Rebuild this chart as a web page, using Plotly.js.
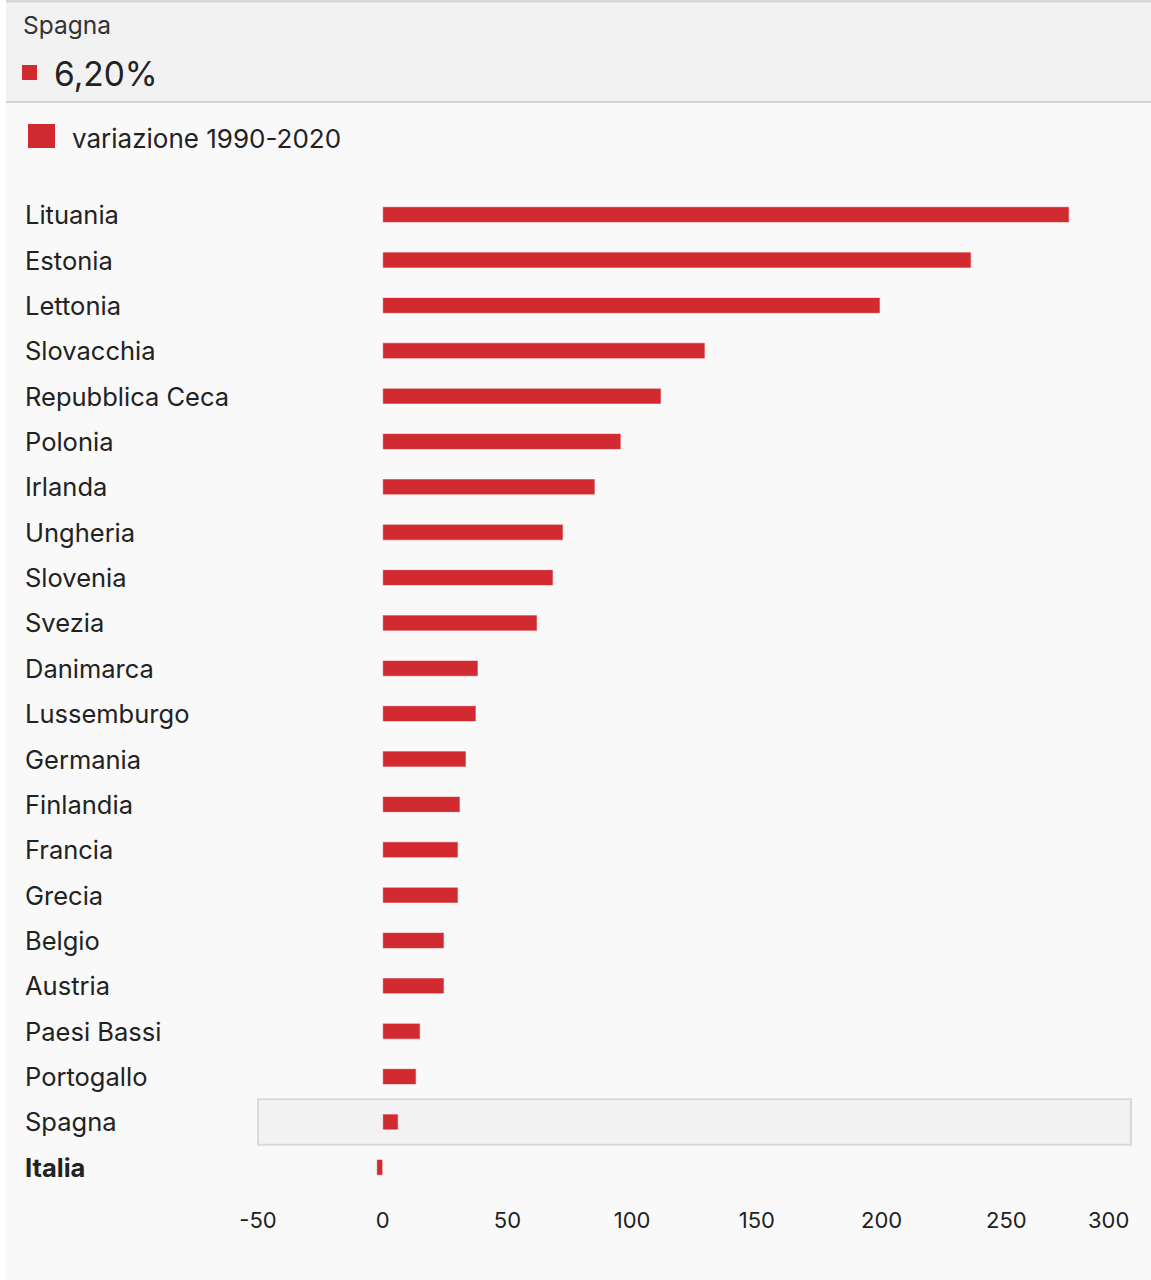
<!DOCTYPE html>
<html>
<head>
<meta charset="utf-8">
<script src="https://cdn.plot.ly/plotly-3.0.1.min.js"></script>
<style>
  html, body { margin: 0; padding: 0; background: #ffffff; }
  #chart { position: absolute; left: 6px; top: 0; width: 1145px; height: 1280px; }
</style>
</head>
<body>
<div id="chart"></div>
<script>
// variazione 1990-2020 (%)
const paesi = ['Lituania', 'Estonia', 'Lettonia', 'Slovacchia', 'Repubblica Ceca', 'Polonia',
    'Irlanda', 'Ungheria', 'Slovenia', 'Svezia', 'Danimarca', 'Lussemburgo', 'Germania',
    'Finlandia', 'Francia', 'Grecia', 'Belgio', 'Austria', 'Paesi Bassi', 'Portogallo',
    'Spagna', 'Italia'];
const variazione = [275.2, 235.9, 199.4, 129.2, 111.6, 95.5, 85.1, 72.3, 68.3, 61.9, 38.2,
    37.4, 33.4, 31.0, 30.2, 30.2, 24.6, 24.6, 15.0, 13.4, 6.2, -2.4];
const tickValori = [-50, 0, 50, 100, 150, 200, 250, 300];
const tickTesti = ['-50', '0', '50', '100', '150', '200', '250', '300'];
const serieNome = 'variazione 1990-2020';
const evidenziato = 'Spagna';
const paeseBold = 'Italia';

const rosso = '#d12a31';
const fontFam = 'Inter, "Liberation Sans", sans-serif';

// plot area in page pixels (div starts at x=6)
const divLeft = 6, plotL = 258, plotR = 1131, plotT = 192, plotB = 1190;
const pw = plotR - plotL, ph = plotB - plotT;
const px = x => (x - plotL) / pw;
const py = y => (plotB - y) / ph;

const idx = paesi.indexOf(evidenziato);
const valTxt = variazione[idx].toFixed(2).replace('.', ',') + '%';
const ultimo = tickValori.length - 1;

const annotations = paesi.map(p => ({
    x: px(23), xref: 'paper', xanchor: 'left',
    y: p, yref: 'y', yanchor: 'middle',
    text: p === paeseBold ? '<b>' + p + '</b>' : p,
    showarrow: false,
    font: { family: fontFam, size: 25.5, color: '#222' }
}));

annotations.push(
    { x: px(21), xref: 'paper', xanchor: 'left', y: py(25), yref: 'paper', yanchor: 'middle',
      text: evidenziato, showarrow: false, font: { family: fontFam, size: 24.5, color: '#333' } },
    { x: px(52), xref: 'paper', xanchor: 'left', y: py(74), yref: 'paper', yanchor: 'middle',
      text: valTxt, showarrow: false, font: { family: fontFam, size: 33.5, color: '#222' } },
    { x: px(70), xref: 'paper', xanchor: 'left', y: py(138), yref: 'paper', yanchor: 'middle',
      text: serieNome, showarrow: false, font: { family: fontFam, size: 26, color: '#222' } },
    // last tick label kept inside the frame, right-aligned on its tick
    { x: tickValori[ultimo], xref: 'x', xanchor: 'right', y: py(1220), yref: 'paper', yanchor: 'middle',
      text: tickTesti[ultimo], showarrow: false, font: { family: fontFam, size: 22, color: '#222' } }
);

const shapes = [
    // header band
    { type: 'rect', xref: 'paper', yref: 'paper', x0: px(divLeft), x1: px(1151), y0: py(102), y1: py(0),
      fillcolor: '#f2f2f2', line: { width: 0 }, layer: 'below' },
    { type: 'line', xref: 'paper', yref: 'paper', x0: px(divLeft), x1: px(1151), y0: py(102), y1: py(102),
      line: { color: '#d2d2d2', width: 2 } },
    { type: 'line', xref: 'paper', yref: 'paper', x0: px(divLeft), x1: px(1151), y0: py(1), y1: py(1),
      line: { color: '#d6d6d6', width: 3 } },
    // header marker
    { type: 'rect', xref: 'paper', yref: 'paper', x0: px(22), x1: px(37), y0: py(80), y1: py(65),
      fillcolor: rosso, line: { width: 0 } },
    // legend marker
    { type: 'rect', xref: 'paper', yref: 'paper', x0: px(28), x1: px(55), y0: py(148), y1: py(124),
      fillcolor: rosso, line: { width: 0 } },
    // hover highlight row
    { type: 'rect', xref: 'paper', yref: 'y', x0: 0, x1: 1, y0: idx - 0.5, y1: idx + 0.5,
      fillcolor: '#f2f2f2', line: { color: '#d9d9d9', width: 2 }, layer: 'below' }
];

const trace = {
    type: 'bar',
    orientation: 'h',
    name: serieNome,
    x: variazione,
    y: paesi,
    width: 0.35,
    marker: { color: rosso, line: { color: 'rgba(255,255,255,0.6)', width: 1 } },
    hoverinfo: 'skip'
};

const layout = {
    width: 1145,
    height: 1280,
    margin: { l: plotL - divLeft, r: 1151 - plotR, t: plotT, b: 1280 - plotB, pad: 0 },
    paper_bgcolor: '#f9f9f9',
    plot_bgcolor: 'rgba(0,0,0,0)',
    showlegend: false,
    font: { family: fontFam, color: '#222' },
    xaxis: {
        range: [-50, 300],
        tickmode: 'array',
        tickvals: tickValori,
        ticktext: tickTesti.map((t, i) => i === ultimo ? '' : t),
        ticklabelstandoff: 15,
        showgrid: false,
        zeroline: false,
        showline: false,
        ticks: '',
        tickfont: { family: fontFam, size: 22, color: '#222' },
        fixedrange: true
    },
    yaxis: {
        type: 'category',
        autorange: 'reversed',
        showticklabels: false,
        showgrid: false,
        zeroline: false,
        showline: false,
        ticks: '',
        fixedrange: true
    },
    annotations: annotations,
    shapes: shapes
};

Plotly.newPlot('chart', [trace], layout, { displayModeBar: false, staticPlot: true });
</script>
</body>
</html>
